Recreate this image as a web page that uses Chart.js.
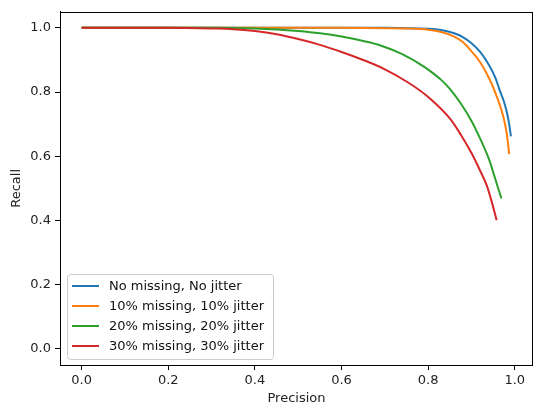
<!DOCTYPE html>
<html>
<head>
<meta charset="utf-8">
<script src="https://cdn.jsdelivr.net/npm/chart.js@4/dist/chart.umd.min.js"></script>
<style>
  html, body { margin: 0; padding: 0; background: #fff; }
  #wrap { width: 533px; height: 405px; }
</style>
</head>
<body>
<div id="wrap"><canvas id="prChart"></canvas></div>
<script>
// series labels
var seriesLabels = [
  'No missing, No jitter',
  '10% missing, 10% jitter',
  '20% missing, 20% jitter',
  '30% missing, 30% jitter'
];
var seriesColors = ['#1f77b4', '#ff7f0e', '#2ca02c', '#d62728'];

// precision / recall
var precisionNone = [0, 0.2, 0.4, 0.6, 0.7, 0.75, 0.8, 0.83, 0.86, 0.88, 0.9, 0.92, 0.94, 0.955, 0.965, 0.975, 0.982, 0.987, 0.991];
var recallNone    = [1, 1, 1, 1, 1, 0.999, 0.997, 0.993, 0.983, 0.971, 0.952, 0.925, 0.885, 0.845, 0.806, 0.77, 0.735, 0.70, 0.662];

var precision10 = [0, 0.2, 0.4, 0.6, 0.7, 0.75, 0.8, 0.83, 0.86, 0.88, 0.9, 0.92, 0.935, 0.95, 0.96, 0.97, 0.977, 0.982, 0.987];
var recall10    = [1, 1, 1, 1, 0.999, 0.998, 0.994, 0.987, 0.973, 0.956, 0.927, 0.893, 0.858, 0.815, 0.78, 0.74, 0.703, 0.665, 0.607];

var precision20 = [0, 0.2, 0.3, 0.4, 0.45, 0.5, 0.55, 0.6, 0.65, 0.69, 0.74, 0.78, 0.8, 0.83, 0.85, 0.875, 0.9, 0.92, 0.942, 0.954, 0.969];
var recall20    = [1, 1, 1, 0.998, 0.995, 0.99, 0.983, 0.973, 0.959, 0.945, 0.918, 0.888, 0.87, 0.838, 0.81, 0.765, 0.71, 0.655, 0.585, 0.533, 0.469];

var precision30 = [0, 0.1, 0.2, 0.3, 0.35, 0.4, 0.45, 0.5, 0.55, 0.6, 0.65, 0.7, 0.75, 0.8, 0.85, 0.875, 0.9, 0.92, 0.935, 0.946, 0.958];
var recall30    = [1, 1, 1, 0.998, 0.996, 0.99, 0.98, 0.965, 0.947, 0.925, 0.9, 0.871, 0.833, 0.785, 0.718, 0.668, 0.61, 0.555, 0.51, 0.462, 0.401];

var xTicks = [0, 0.2, 0.4, 0.6, 0.8, 1.0];
var yTicks = [0, 0.2, 0.4, 0.6, 0.8, 1.0];

function toPoints(xs, ys) {
  return xs.map(function(x, i) { return { x: x, y: ys[i] }; });
}

var allSeries = [
  toPoints(precisionNone, recallNone),
  toPoints(precision10, recall10),
  toPoints(precision20, recall20),
  toPoints(precision30, recall30)
];

var FONT = 'DejaVu Sans';
var FSIZE = 13;

// matplotlib-like box around the axes plus the legend drawn inside it
var framePlugin = {
  id: 'frame',
  afterDraw: function(chart) {
    var ctx = chart.ctx;
    var a = chart.chartArea;
    ctx.save();
    ctx.strokeStyle = '#000';
    ctx.lineWidth = 1;
    ctx.strokeRect(Math.round(a.left) + 0.5, Math.round(a.top) + 0.5,
      Math.round(a.right - a.left) - 1, Math.round(a.bottom - a.top));

    // legend box
    var bx = a.left + 7, bw = 206, bh = 85;
    var by = a.bottom - 6 - bh;
    ctx.beginPath();
    if (ctx.roundRect) {
      ctx.roundRect(bx + 0.5, by + 0.5, bw, bh, 3);
    } else {
      ctx.rect(bx + 0.5, by + 0.5, bw, bh);
    }
    ctx.fillStyle = 'rgba(255,255,255,0.8)';
    ctx.fill();
    ctx.strokeStyle = '#cccccc';
    ctx.stroke();

    ctx.font = FSIZE + 'px "' + FONT + '"';
    ctx.textBaseline = 'middle';
    ctx.textAlign = 'left';
    chart.data.datasets.forEach(function(ds, i) {
      var y = by + 12 + i * 20;
      ctx.beginPath();
      ctx.moveTo(bx + 5, y);
      ctx.lineTo(bx + 32, y);
      ctx.strokeStyle = ds.borderColor;
      ctx.lineWidth = 2;
      ctx.stroke();
      ctx.fillStyle = '#111';
      ctx.fillText(ds.label, bx + 42, y + 1);
    });
    ctx.restore();
  }
};

var ctx = document.getElementById('prChart').getContext('2d');
new Chart(ctx, {
  type: 'line',
  data: {
    datasets: allSeries.map(function(pts, i) {
      return {
        label: seriesLabels[i],
        data: pts,
        borderColor: seriesColors[i],
        backgroundColor: seriesColors[i],
        borderWidth: 2,
        pointRadius: 0,
        fill: false,
        cubicInterpolationMode: 'monotone',
        order: 4 - i
      };
    })
  },
  options: {
    responsive: true,
    maintainAspectRatio: false,
    animation: false,
    layout: { padding: { top: 10, right: 0, left: 0, bottom: 0 } },
    plugins: {
      legend: { display: false },
      tooltip: { enabled: false }
    },
    scales: {
      x: {
        type: 'linear',
        min: -0.05,
        max: 1.042,
        afterFit: function(scale) { scale.height = 40; },
        afterBuildTicks: function(scale) {
          scale.ticks = xTicks.map(function(v) { return { value: v }; });
        },
        grid: { drawOnChartArea: false, drawTicks: true, tickLength: 5, color: '#000' },
        border: { display: true, color: '#000' },
        ticks: {
          color: '#222',
          font: { family: FONT, size: FSIZE },
          padding: 3,
          maxRotation: 0,
          callback: function(v) { return v.toFixed(1); }
        },
        title: {
          display: true,
          text: 'Precision',
          color: '#222',
          font: { family: FONT, size: FSIZE, lineHeight: 1.0 },
          padding: { top: 0, bottom: 0 }
        }
      },
      y: {
        type: 'linear',
        min: -0.05,
        max: 1.05,
        afterFit: function(scale) { scale.width = 60; },
        afterBuildTicks: function(scale) {
          scale.ticks = yTicks.map(function(v) { return { value: v }; });
        },
        grid: { drawOnChartArea: false, drawTicks: true, tickLength: 5, color: '#000' },
        border: { display: true, color: '#000' },
        ticks: {
          color: '#222',
          font: { family: FONT, size: FSIZE },
          padding: 4,
          callback: function(v) { return v.toFixed(1); }
        },
        title: {
          display: true,
          text: 'Recall',
          color: '#222',
          font: { family: FONT, size: FSIZE },
          padding: { top: 9, bottom: 0 }
        }
      }
    }
  },
  plugins: [framePlugin]
});
</script>
</body>
</html>
